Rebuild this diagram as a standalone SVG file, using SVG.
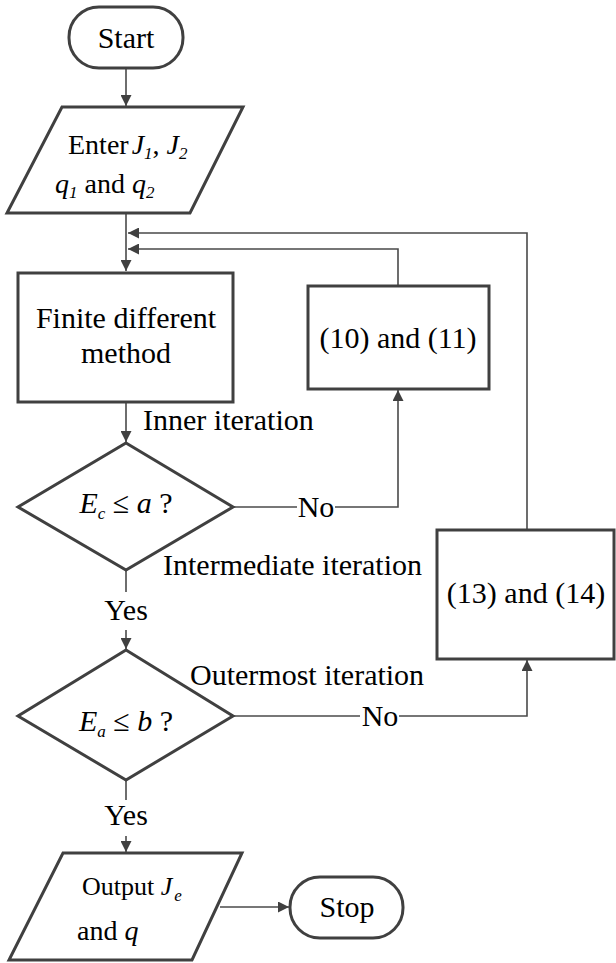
<svg xmlns="http://www.w3.org/2000/svg" width="616" height="963" viewBox="0 0 616 963" font-family="'Liberation Serif', 'Times New Roman', 'DejaVu Serif', serif">
<style>
.s{fill:#fff;stroke:#404040;stroke-width:3}
.c{fill:none;stroke:#4a4a4a;stroke-width:1.6}
text{font-family:'Liberation Serif','Times New Roman','DejaVu Serif',serif;fill:#000}
.t{font-size:30px}
.u{font-size:28px}
.o{font-size:26px}
.m{text-anchor:middle}
.i{font-style:italic}
.sub{font-size:17px;font-style:italic}
</style>
<defs>
<marker id="a" viewBox="0 0 10 10" refX="10" refY="5" markerWidth="11" markerHeight="11" markerUnits="userSpaceOnUse" orient="auto">
<path d="M0,0L10,5L0,10z" fill="#404040"/>
</marker>
</defs>
<g id="connectors">
<line class="c" x1="126" y1="68" x2="126" y2="106" marker-end="url(#a)"/>
<line class="c" x1="126" y1="213" x2="126" y2="271" marker-end="url(#a)"/>
<path class="c" d="M527,530V233H128" marker-end="url(#a)"/>
<path class="c" d="M398,286V249H128" marker-end="url(#a)"/>
<line class="c" x1="126" y1="402" x2="126" y2="442" marker-end="url(#a)"/>
<path class="c" d="M233,507H297"/>
<path class="c" d="M335,507H398V390" marker-end="url(#a)"/>
<line class="c" x1="126" y1="570" x2="126" y2="592"/>
<line class="c" x1="126" y1="630" x2="126" y2="649" marker-end="url(#a)"/>
<path class="c" d="M233,716H360"/>
<path class="c" d="M399,716H527V660" marker-end="url(#a)"/>
<line class="c" x1="126" y1="780" x2="126" y2="800"/>
<line class="c" x1="126" y1="836" x2="126" y2="852" marker-end="url(#a)"/>
<line class="c" x1="220" y1="907" x2="289" y2="907" marker-end="url(#a)"/>
<text x="143" y="430" class="t">Inner iteration</text>
<text x="163" y="575" class="t">Intermediate iteration</text>
<text x="190" y="685" class="t">Outermost iteration</text>
<text x="316" y="517" class="t m">No</text>
<text x="380" y="726" class="t m">No</text>
<text x="126" y="620" class="t m">Yes</text>
<text x="126" y="825" class="t m">Yes</text>
</g>
<g id="start">
<rect class="s" x="69" y="7" width="114" height="61" rx="30"/>
<text x="126" y="48" class="t m">Start</text>
</g>
<g id="enter">
<polygon class="s" points="62,107 243,107 190,213 7,213"/>
<text x="68" y="154" class="u">Enter<tspan class="i" dx="3">J</tspan><tspan class="sub" dy="5">1</tspan><tspan dy="-5">, </tspan><tspan class="i">J</tspan><tspan class="sub" dy="5">2</tspan></text>
<text x="55" y="193" class="u"><tspan class="i">q</tspan><tspan class="sub" dy="5">1</tspan><tspan dy="-5"> and </tspan><tspan class="i">q</tspan><tspan class="sub" dy="5">2</tspan></text>
</g>
<g id="fdm">
<rect class="s" x="18" y="273" width="215" height="129"/>
<text x="126" y="328" class="t m">Finite different</text>
<text x="126" y="363" class="t m">method</text>
</g>
<g id="eq1011">
<rect class="s" x="308" y="286" width="181" height="103"/>
<text x="398" y="348" class="t m">(10) and (11)</text>
</g>
<g id="dec1">
<polygon class="s" points="126,443 233,507 126,570 18,507"/>
<text x="126" y="513" class="t m"><tspan class="i">E</tspan><tspan class="sub" dy="6">c</tspan><tspan dy="-6"> ≤ </tspan><tspan class="i">a</tspan> ?</text>
</g>
<g id="eq1314">
<rect class="s" x="437" y="530" width="177" height="129"/>
<text x="526" y="603" class="t m">(13) and (14)</text>
</g>
<g id="dec2">
<polygon class="s" points="126,650 233,716 126,780 18,716"/>
<text x="126" y="731" class="t m"><tspan class="i">E</tspan><tspan class="sub" dy="6">a</tspan><tspan dy="-6"> ≤ </tspan><tspan class="i">b</tspan> ?</text>
</g>
<g id="output">
<polygon class="s" points="63,853 242,853 192,960 9,960"/>
<text x="82" y="895" class="o">Output <tspan class="i">J</tspan><tspan class="sub" dy="6" dx="2">e</tspan></text>
<text x="77" y="940" class="u">and <tspan class="i">q</tspan></text>
</g>
<g id="stop">
<rect class="s" x="290" y="877" width="113" height="61" rx="30"/>
<text x="347" y="917" class="t m">Stop</text>
</g>
</svg>
